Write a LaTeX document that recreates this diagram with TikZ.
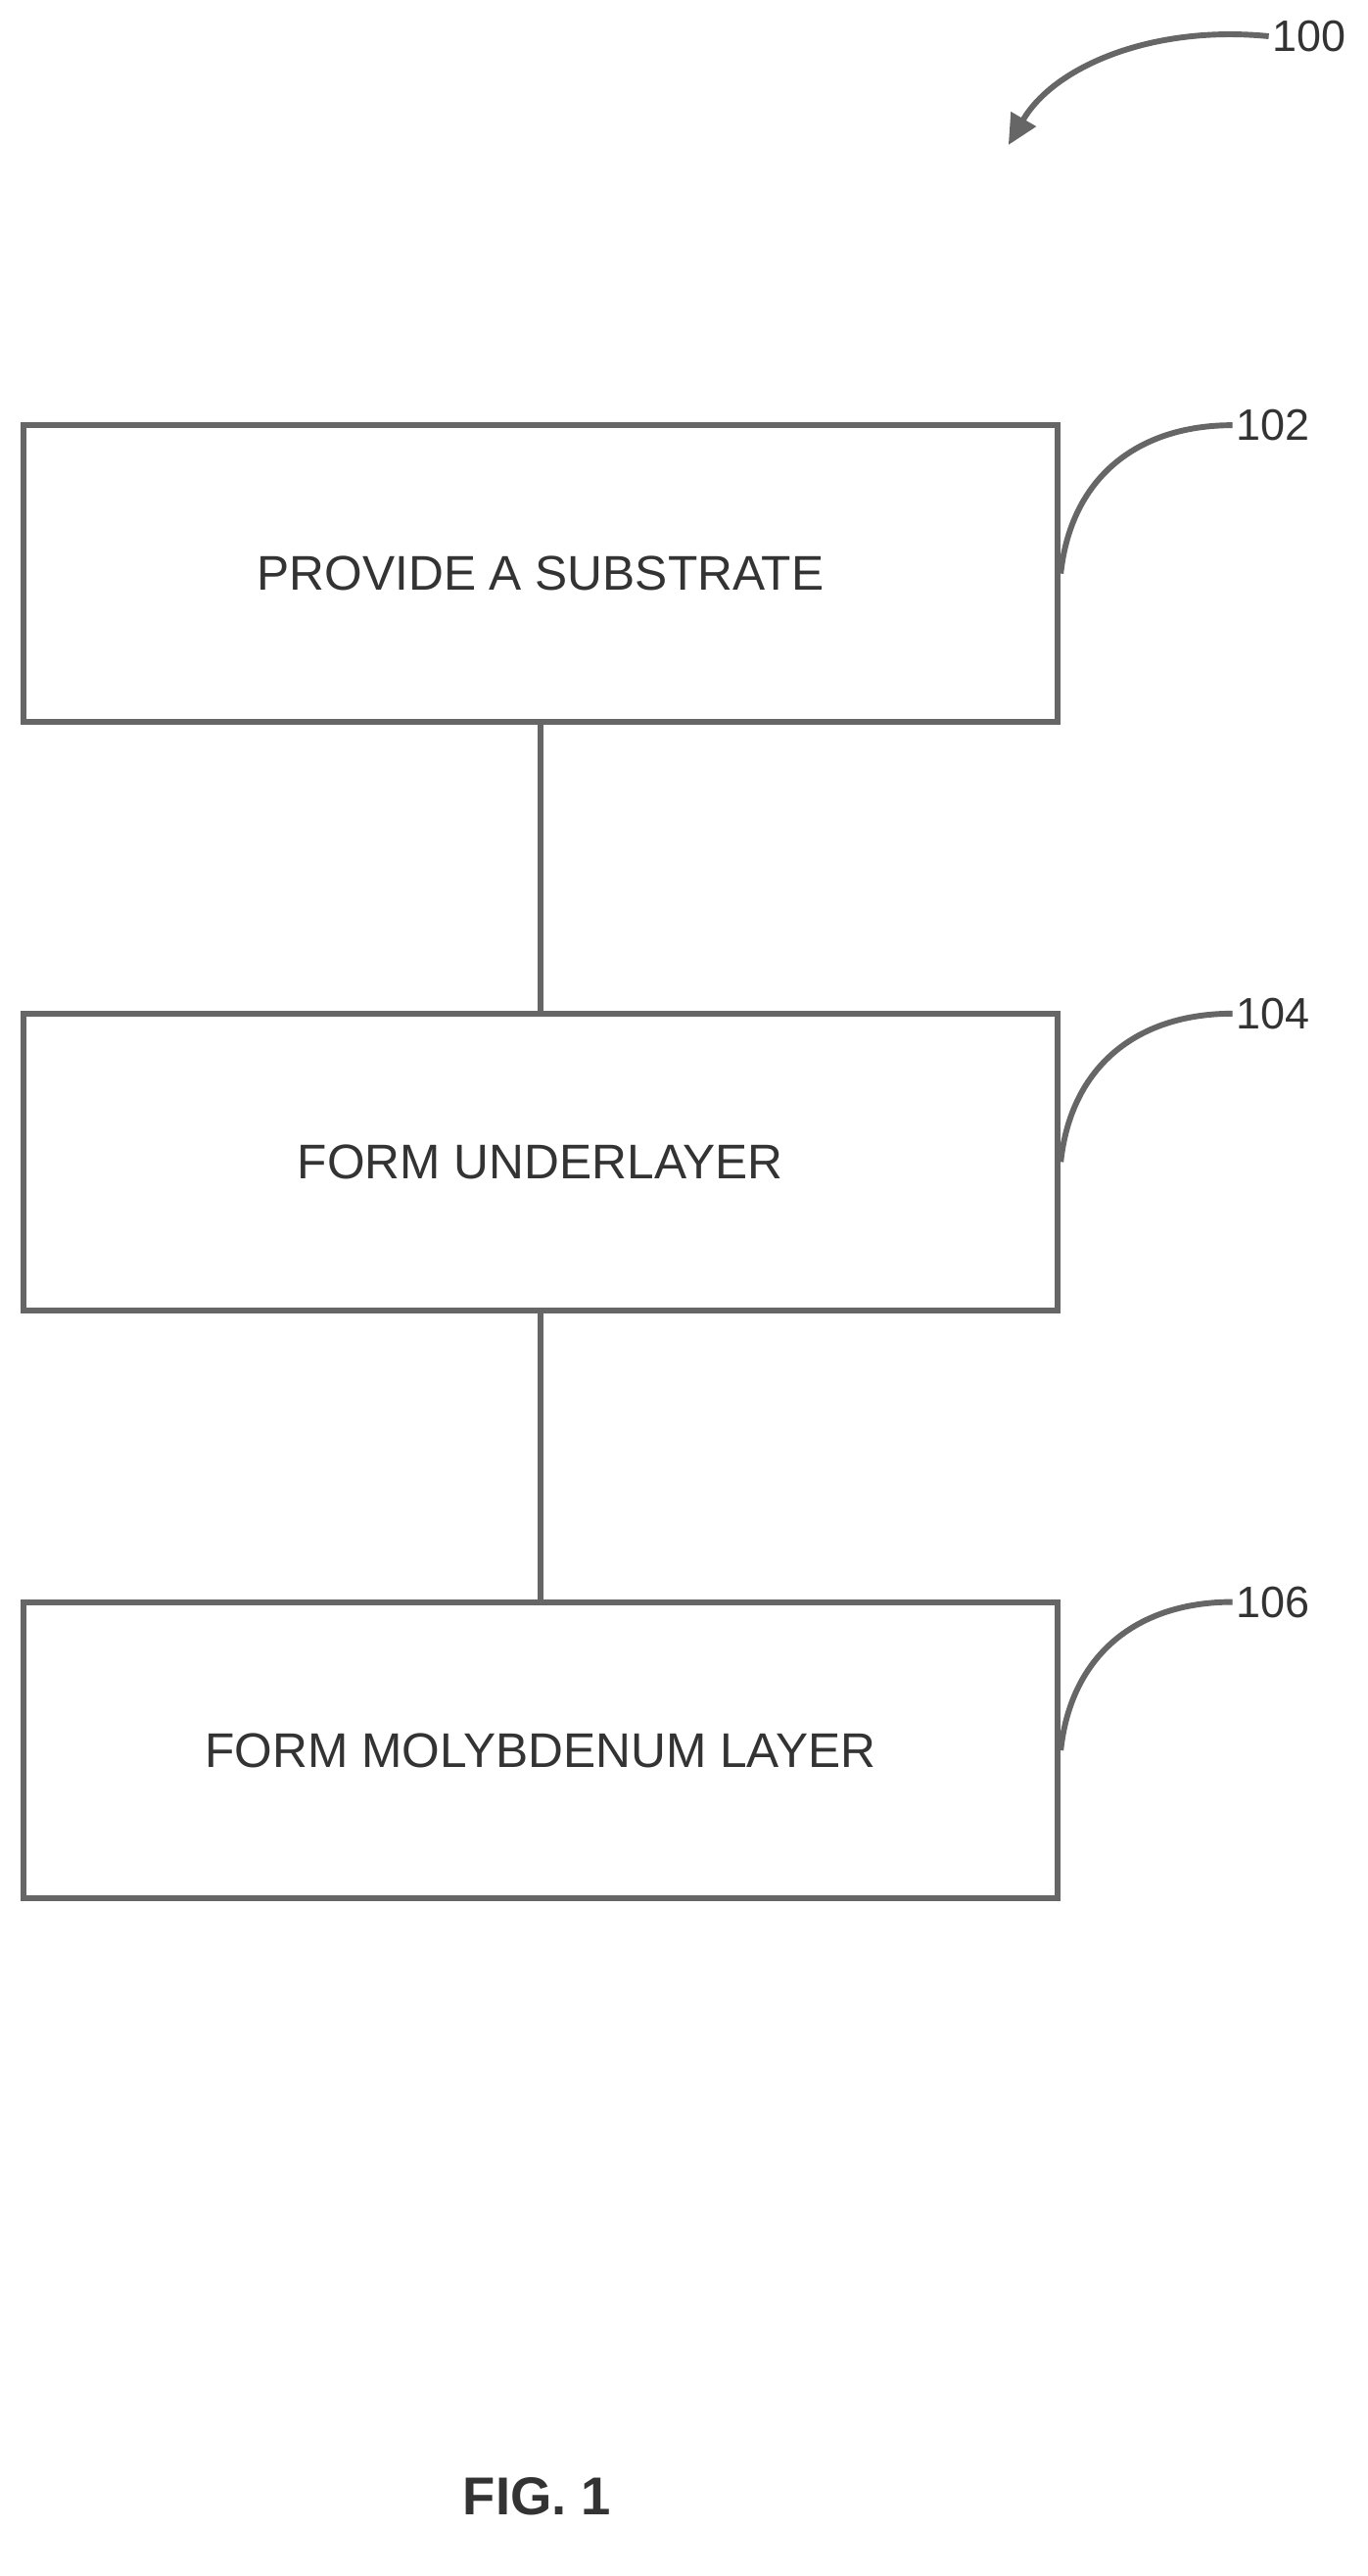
\documentclass[tikz,border=0pt]{standalone}
\usepackage{fontspec}
\setmainfont{Liberation Sans}
\usetikzlibrary{positioning,arrows.meta}
\tikzset{
  stage/.style={rectangle, minimum width=31.4cm, minimum height=9cm, text centered, draw=black!60, line width=5pt, text=black!80, font=\fontsize{42}{46}\selectfont},
  lead/.style={draw=black!60, line width=5pt},
  ref/.style={font=\fontsize{38}{42}\selectfont, text=black!80, anchor=west}
}
\begin{document}
\begin{tikzpicture}[x=0.05cm,y=-0.05cm]
	\useasboundingbox (0,0) rectangle (830,1563);
	\node[stage] (sub) at (328,348) {PROVIDE A SUBSTRATE};
	\node[stage] (under) at (328,705) {FORM UNDERLAYER};
	\node[stage] (moly) at (328,1062) {FORM MOLYBDENUM LAYER};
	%
	\draw[lead] (sub) -- (under);
	\draw[lead] (under) -- (moly);
	%
	\node[ref] (r100) at (770,22) {100};
	\node[ref] (r102) at (748,258) {102};
	\node[ref] (r104) at (748,615) {104};
	\node[ref] (r106) at (748,972) {106};
	\draw[lead, -{Triangle[length=26pt,width=24pt]}] (r100.west) .. controls (700,15) and (640,40) .. (612,88);
	\draw[lead] (sub.east) .. controls (650,290) and (690,258) .. (r102.west);
	\draw[lead] (under.east) .. controls (650,647) and (690,615) .. (r104.west);
	\draw[lead] (moly.east) .. controls (650,1004) and (690,972) .. (r106.west);
	%
	\node[font=\bfseries\fontsize{46}{50}\selectfont, text=black!80] (fig) at (326,1515) {FIG. 1};
\end{tikzpicture}
\end{document}
